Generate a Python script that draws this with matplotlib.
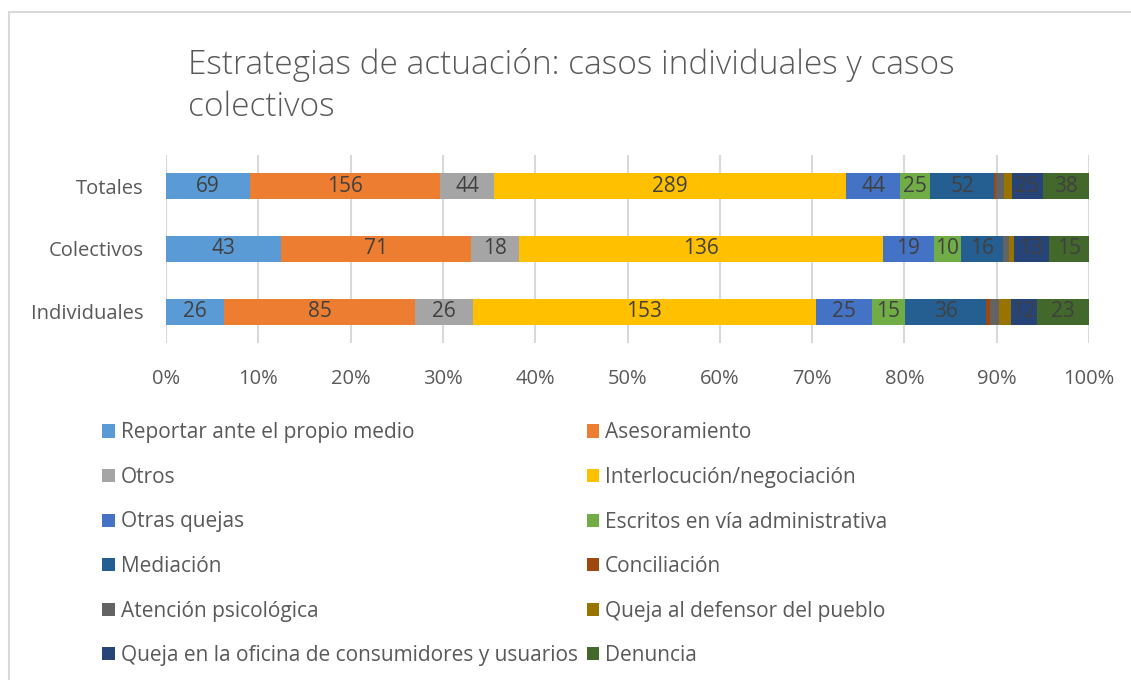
import numpy as np
import matplotlib.pyplot as plt
from matplotlib.patches import Rectangle

plt.rcParams['font.family'] = ['Open Sans', 'DejaVu Sans']

TEXT = '#595959'
LABEL = '#404040'
GRID = '#d9d9d9'

# Categories, bottom to top as drawn
categories = ['Individuales', 'Colectivos', 'Totales']

series_names = [
    'Reportar ante el propio medio', 'Asesoramiento', 'Otros',
    'Interlocución/negociación', 'Otras quejas', 'Escritos en vía administrativa',
    'Mediación', 'Conciliación', 'Atención psicológica',
    'Queja al defensor del pueblo',
    'Queja en la oficina de consumidores y usuarios', 'Denuncia',
]
colors = ['#5B9BD5', '#ED7D31', '#A5A5A5', '#FFC000', '#4472C4', '#70AD47',
          '#255E91', '#9E480E', '#636363', '#997300', '#264478', '#43682B']

# Counts per series: Individuales, Colectivos, Totales
reportar = [26, 43, 69]
asesoramiento = [85, 71, 156]
otros = [26, 18, 44]
interlocucion = [153, 136, 289]
otras_quejas = [25, 19, 44]
escritos = [15, 10, 25]
mediacion = [36, 16, 52]
conciliacion = [2, 0, 2]
atencion = [4, 2, 6]
defensor = [5, 2, 7]
consumidores = [12, 13, 25]
denuncia = [23, 15, 38]

values = np.array([reportar, asesoramiento, otros, interlocucion, otras_quejas,
                   escritos, mediacion, conciliacion, atencion, defensor,
                   consumidores, denuncia], dtype=float)
totals = values.sum(axis=0)
pct = values / totals * 100

fig = plt.figure(figsize=(11.31, 6.8), dpi=100)
ax = fig.add_axes([166 / 1131, 1 - 343 / 680, 923 / 1131, 188 / 680])

# outer chart border
fig.patches.append(Rectangle((9 / 1131, -0.1), 1.2, 1 - 12 / 680 + 0.1,
                             transform=fig.transFigure, fill=False,
                             edgecolor=GRID, linewidth=1.5))

y = np.arange(len(categories))
left = np.zeros(len(categories))
handles = []
for i in range(len(series_names)):
    bars = ax.barh(y, pct[i], left=left, height=0.42, color=colors[i],
                   label=series_names[i], zorder=3)
    handles.append(bars)
    for j in range(len(categories)):
        if values[i, j] >= 10:
            ax.text(left[j] + pct[i, j] / 2, y[j], f'{int(values[i, j])}',
                    ha='center', va='center', fontsize=15, color=LABEL,
                    zorder=4)
    left += pct[i]

ax.set_xlim(0, 100)
ax.set_ylim(-0.5, 2.5)
ax.set_xticks(np.arange(0, 101, 10))
ax.set_xticklabels([f'{t}%' for t in range(0, 101, 10)])
ax.set_yticks(y)
ax.set_yticklabels(categories)
ax.tick_params(length=0, labelsize=14.5, colors=TEXT)
ax.tick_params(axis='x', pad=19)
ax.tick_params(axis='y', pad=16)
ax.grid(axis='x', color=GRID, linewidth=1.5, zorder=0)
for s in ax.spines.values():
    s.set_visible(False)

fig.text(188 / 1131, 1 - 48 / 680,
         'Estrategias de actuación: casos individuales y casos\ncolectivos',
         ha='left', va='top', fontsize=24, color=TEXT, fontweight='light',
         linespacing=1.35)

# legend filled row by row, like the original
order = list(range(0, 12, 2)) + list(range(1, 12, 2))
leg = fig.legend([handles[k] for k in order], [series_names[k] for k in order],
                 ncol=2, loc='upper left', bbox_to_anchor=(92 / 1131, 1 - 412 / 680),
                 frameon=False, fontsize=15, labelcolor=TEXT,
                 handlelength=0.6, handleheight=0.6, handletextpad=0.3,
                 columnspacing=0.4, labelspacing=1.13, borderpad=0)

fig.savefig('out.png', dpi=100)
